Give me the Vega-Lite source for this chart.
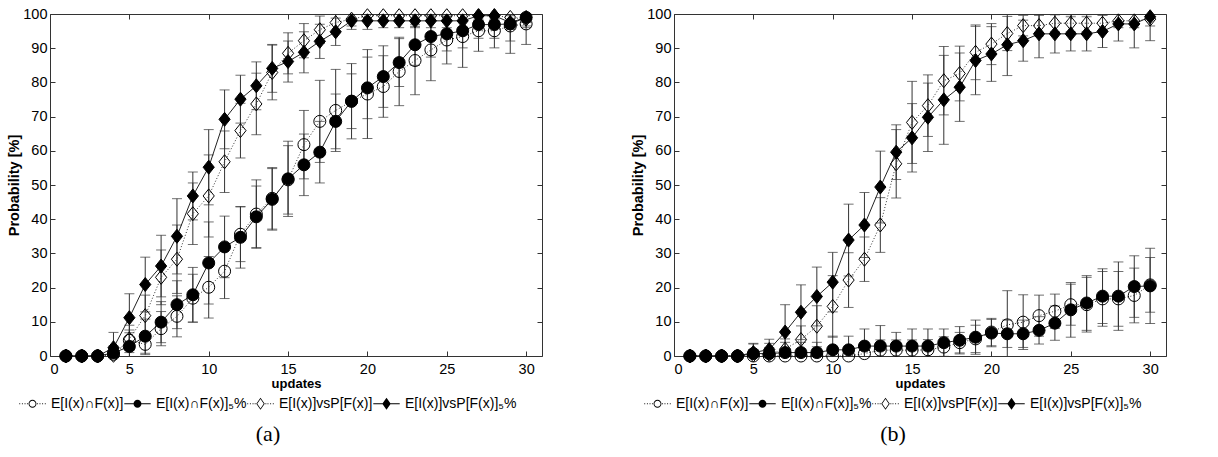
{
  "$schema": "https://vega.github.io/schema/vega-lite/v6.json",
  "padding": {"left": 6, "top": 5, "right": 5, "bottom": 5},
  "bounds": "flush",
  "spacing": 132,
  "resolve": {"scale": {"shape": "independent"}, "legend": {"shape": "independent"}},
  "config": {
    "font": "Liberation Sans",
    "view": {"stroke": "#333", "strokeWidth": 1},
    "axis": {"domain": false, "grid": false, "tickSize": -5, "tickColor": "#333", "labelFontSize": 14.5, "labelColor": "black", "titleFontWeight": "bold", "titleColor": "black", "labelFont": "Liberation Sans", "titleFont": "Liberation Sans", "zindex": 1},
    "axisX": {"labelPadding": 11, "titlePadding": 2, "titleFontSize": 13},
    "axisY": {"labelPadding": 8, "titlePadding": 1, "titleFontSize": 14.5}
  },
  "datasets": {
    "a": [
      {"s":"S1","x":1,"y":0,"e":0},{"s":"S1","x":2,"y":0,"e":0},{"s":"S1","x":3,"y":0,"e":0},{"s":"S1","x":4,"y":0.5,"e":2},{"s":"S1","x":5,"y":4.6,"e":3},{"s":"S1","x":6,"y":3.4,"e":3},{"s":"S1","x":7,"y":8,"e":5},{"s":"S1","x":8,"y":11.6,"e":6},{"s":"S1","x":9,"y":16.9,"e":7},{"s":"S1","x":10,"y":20.1,"e":9},{"s":"S1","x":11,"y":24.8,"e":8},{"s":"S1","x":12,"y":35.6,"e":8},{"s":"S1","x":13,"y":41.5,"e":10},{"s":"S1","x":14,"y":46.1,"e":9},{"s":"S1","x":15,"y":51.5,"e":10},{"s":"S1","x":16,"y":61.8,"e":10},{"s":"S1","x":17,"y":68.6,"e":12},{"s":"S1","x":18,"y":71.8,"e":12},{"s":"S1","x":19,"y":74.5,"e":11},{"s":"S1","x":20,"y":76.6,"e":13},{"s":"S1","x":21,"y":78.8,"e":9},{"s":"S1","x":22,"y":83.2,"e":10},{"s":"S1","x":23,"y":86.4,"e":10},{"s":"S1","x":24,"y":89.5,"e":9},{"s":"S1","x":25,"y":92.4,"e":7},{"s":"S1","x":26,"y":93.4,"e":9},{"s":"S1","x":27,"y":95.1,"e":6},{"s":"S1","x":28,"y":95.1,"e":5},{"s":"S1","x":29,"y":96.5,"e":8},{"s":"S1","x":30,"y":97.1,"e":6},
      {"s":"S2","x":1,"y":0,"e":0},{"s":"S2","x":2,"y":0,"e":0},{"s":"S2","x":3,"y":0,"e":0},{"s":"S2","x":4,"y":0.9,"e":2},{"s":"S2","x":5,"y":2.8,"e":4},{"s":"S2","x":6,"y":5.8,"e":5},{"s":"S2","x":7,"y":9.9,"e":6},{"s":"S2","x":8,"y":15,"e":7},{"s":"S2","x":9,"y":17.9,"e":8},{"s":"S2","x":10,"y":27.2,"e":12},{"s":"S2","x":11,"y":31.9,"e":9},{"s":"S2","x":12,"y":34.7,"e":9},{"s":"S2","x":13,"y":40.7,"e":9},{"s":"S2","x":14,"y":45.8,"e":9},{"s":"S2","x":15,"y":51.8,"e":11},{"s":"S2","x":16,"y":55.9,"e":9},{"s":"S2","x":17,"y":59.6,"e":9},{"s":"S2","x":18,"y":68.6,"e":8},{"s":"S2","x":19,"y":74.5,"e":8},{"s":"S2","x":20,"y":78.4,"e":9},{"s":"S2","x":21,"y":81.7,"e":9},{"s":"S2","x":22,"y":85.8,"e":7},{"s":"S2","x":23,"y":91,"e":6},{"s":"S2","x":24,"y":93.4,"e":6},{"s":"S2","x":25,"y":94.2,"e":5},{"s":"S2","x":26,"y":95.1,"e":5},{"s":"S2","x":27,"y":96.9,"e":4},{"s":"S2","x":28,"y":96.9,"e":4},{"s":"S2","x":29,"y":97.1,"e":5},{"s":"S2","x":30,"y":99,"e":3},
      {"s":"S3","x":1,"y":0,"e":0},{"s":"S3","x":2,"y":0,"e":0},{"s":"S3","x":3,"y":0,"e":0},{"s":"S3","x":4,"y":0.2,"e":2},{"s":"S3","x":5,"y":5,"e":4},{"s":"S3","x":6,"y":11.8,"e":6},{"s":"S3","x":7,"y":23,"e":8},{"s":"S3","x":8,"y":28.3,"e":10},{"s":"S3","x":9,"y":41.6,"e":9},{"s":"S3","x":10,"y":46.8,"e":12},{"s":"S3","x":11,"y":56.8,"e":9},{"s":"S3","x":12,"y":65.9,"e":8},{"s":"S3","x":13,"y":73.7,"e":9},{"s":"S3","x":14,"y":82.9,"e":8},{"s":"S3","x":15,"y":88.5,"e":6},{"s":"S3","x":16,"y":92.2,"e":5},{"s":"S3","x":17,"y":95.4,"e":4},{"s":"S3","x":18,"y":97.5,"e":3},{"s":"S3","x":19,"y":98.5,"e":2},{"s":"S3","x":20,"y":99.5,"e":1.5},{"s":"S3","x":21,"y":99.5,"e":1.5},{"s":"S3","x":22,"y":99.5,"e":1.5},{"s":"S3","x":23,"y":99.5,"e":1.5},{"s":"S3","x":24,"y":99.5,"e":1.5},{"s":"S3","x":25,"y":99.5,"e":1.5},{"s":"S3","x":26,"y":99.5,"e":1.5},{"s":"S3","x":27,"y":99.5,"e":1.5},{"s":"S3","x":28,"y":99.5,"e":1.5},{"s":"S3","x":29,"y":99,"e":2},{"s":"S3","x":30,"y":98.5,"e":2},
      {"s":"S4","x":1,"y":0,"e":0},{"s":"S4","x":2,"y":0,"e":0},{"s":"S4","x":3,"y":0,"e":0},{"s":"S4","x":4,"y":2.4,"e":4.5},{"s":"S4","x":5,"y":11.2,"e":7},{"s":"S4","x":6,"y":20.9,"e":8},{"s":"S4","x":7,"y":26.3,"e":9},{"s":"S4","x":8,"y":35,"e":11},{"s":"S4","x":9,"y":46.8,"e":7},{"s":"S4","x":10,"y":55.2,"e":11},{"s":"S4","x":11,"y":69.2,"e":8.6},{"s":"S4","x":12,"y":75.1,"e":7},{"s":"S4","x":13,"y":79,"e":7},{"s":"S4","x":14,"y":84.1,"e":7},{"s":"S4","x":15,"y":86.1,"e":6},{"s":"S4","x":16,"y":88.8,"e":6},{"s":"S4","x":17,"y":92,"e":5},{"s":"S4","x":18,"y":94.8,"e":4},{"s":"S4","x":19,"y":98,"e":2.5},{"s":"S4","x":20,"y":98,"e":2.5},{"s":"S4","x":21,"y":98,"e":2},{"s":"S4","x":22,"y":98,"e":2},{"s":"S4","x":23,"y":98,"e":2},{"s":"S4","x":24,"y":98,"e":2},{"s":"S4","x":25,"y":98,"e":2},{"s":"S4","x":26,"y":98,"e":2},{"s":"S4","x":27,"y":99.5,"e":1},{"s":"S4","x":28,"y":99.5,"e":1},{"s":"S4","x":29,"y":97.5,"e":2},{"s":"S4","x":30,"y":99,"e":1.5}
    ],
    "b": [
      {"s":"S1","x":1,"y":0,"e":0},{"s":"S1","x":2,"y":0,"e":0},{"s":"S1","x":3,"y":0,"e":0},{"s":"S1","x":4,"y":0,"e":0},{"s":"S1","x":5,"y":0,"e":0},{"s":"S1","x":6,"y":0,"e":0},{"s":"S1","x":7,"y":0,"e":0.5},{"s":"S1","x":8,"y":0,"e":1},{"s":"S1","x":9,"y":0,"e":1},{"s":"S1","x":10,"y":0,"e":1},{"s":"S1","x":11,"y":0,"e":1},{"s":"S1","x":12,"y":0.7,"e":2},{"s":"S1","x":13,"y":1.7,"e":3},{"s":"S1","x":14,"y":1.7,"e":3},{"s":"S1","x":15,"y":1.7,"e":3},{"s":"S1","x":16,"y":1.8,"e":3},{"s":"S1","x":17,"y":2.6,"e":3},{"s":"S1","x":18,"y":3.9,"e":3},{"s":"S1","x":19,"y":5,"e":4},{"s":"S1","x":20,"y":7,"e":4},{"s":"S1","x":21,"y":9.1,"e":10},{"s":"S1","x":22,"y":9.9,"e":8},{"s":"S1","x":23,"y":11.8,"e":6},{"s":"S1","x":24,"y":13.1,"e":5},{"s":"S1","x":25,"y":15,"e":6},{"s":"S1","x":26,"y":15,"e":8},{"s":"S1","x":27,"y":16.7,"e":8},{"s":"S1","x":28,"y":16.7,"e":8},{"s":"S1","x":29,"y":17.7,"e":8},{"s":"S1","x":30,"y":20.8,"e":8},
      {"s":"S2","x":1,"y":0,"e":0},{"s":"S2","x":2,"y":0,"e":0},{"s":"S2","x":3,"y":0,"e":0},{"s":"S2","x":4,"y":0,"e":0},{"s":"S2","x":5,"y":0.7,"e":3},{"s":"S2","x":6,"y":0.7,"e":3},{"s":"S2","x":7,"y":1,"e":3},{"s":"S2","x":8,"y":1,"e":3},{"s":"S2","x":9,"y":1,"e":3},{"s":"S2","x":10,"y":1.8,"e":4},{"s":"S2","x":11,"y":1.8,"e":4},{"s":"S2","x":12,"y":2.9,"e":5},{"s":"S2","x":13,"y":2.9,"e":6},{"s":"S2","x":14,"y":2.9,"e":4},{"s":"S2","x":15,"y":2.9,"e":5},{"s":"S2","x":16,"y":2.9,"e":5},{"s":"S2","x":17,"y":3.9,"e":4},{"s":"S2","x":18,"y":4.6,"e":4},{"s":"S2","x":19,"y":5.5,"e":5},{"s":"S2","x":20,"y":6.7,"e":4},{"s":"S2","x":21,"y":6.5,"e":4},{"s":"S2","x":22,"y":6.5,"e":4},{"s":"S2","x":23,"y":7.5,"e":4},{"s":"S2","x":24,"y":9.6,"e":5},{"s":"S2","x":25,"y":13.5,"e":8},{"s":"S2","x":26,"y":15.5,"e":8},{"s":"S2","x":27,"y":17.5,"e":8},{"s":"S2","x":28,"y":17.5,"e":10},{"s":"S2","x":29,"y":20.3,"e":9},{"s":"S2","x":30,"y":20.5,"e":11},
      {"s":"S3","x":1,"y":0,"e":0},{"s":"S3","x":2,"y":0,"e":0},{"s":"S3","x":3,"y":0,"e":0},{"s":"S3","x":4,"y":0,"e":0},{"s":"S3","x":5,"y":0.3,"e":1.5},{"s":"S3","x":6,"y":0.5,"e":2},{"s":"S3","x":7,"y":2,"e":3},{"s":"S3","x":8,"y":4.8,"e":4},{"s":"S3","x":9,"y":8.7,"e":6},{"s":"S3","x":10,"y":14.5,"e":9},{"s":"S3","x":11,"y":22.2,"e":8},{"s":"S3","x":12,"y":28.3,"e":6.5},{"s":"S3","x":13,"y":38.3,"e":8},{"s":"S3","x":14,"y":56.2,"e":10},{"s":"S3","x":15,"y":68.3,"e":12},{"s":"S3","x":16,"y":73.2,"e":9},{"s":"S3","x":17,"y":80.5,"e":10},{"s":"S3","x":18,"y":82.6,"e":8},{"s":"S3","x":19,"y":88.8,"e":8},{"s":"S3","x":20,"y":91.2,"e":6},{"s":"S3","x":21,"y":94.3,"e":5},{"s":"S3","x":22,"y":96.6,"e":3},{"s":"S3","x":23,"y":96.6,"e":3},{"s":"S3","x":24,"y":97.3,"e":2.5},{"s":"S3","x":25,"y":97.3,"e":2.5},{"s":"S3","x":26,"y":97.3,"e":2.5},{"s":"S3","x":27,"y":97.3,"e":2.5},{"s":"S3","x":28,"y":98,"e":2},{"s":"S3","x":29,"y":98,"e":2},{"s":"S3","x":30,"y":98.5,"e":2},
      {"s":"S4","x":1,"y":0,"e":0},{"s":"S4","x":2,"y":0,"e":0},{"s":"S4","x":3,"y":0,"e":0},{"s":"S4","x":4,"y":0,"e":0},{"s":"S4","x":5,"y":1,"e":2.5},{"s":"S4","x":6,"y":1.9,"e":3},{"s":"S4","x":7,"y":7,"e":8},{"s":"S4","x":8,"y":12.8,"e":8},{"s":"S4","x":9,"y":17.4,"e":8.6},{"s":"S4","x":10,"y":21.6,"e":8.7},{"s":"S4","x":11,"y":33.9,"e":10.5},{"s":"S4","x":12,"y":38.3,"e":9.5},{"s":"S4","x":13,"y":49.4,"e":10.5},{"s":"S4","x":14,"y":59.6,"e":8},{"s":"S4","x":15,"y":63.8,"e":10},{"s":"S4","x":16,"y":69.8,"e":10},{"s":"S4","x":17,"y":74.9,"e":13},{"s":"S4","x":18,"y":78.6,"e":10},{"s":"S4","x":19,"y":86.4,"e":10},{"s":"S4","x":20,"y":88.3,"e":8},{"s":"S4","x":21,"y":91,"e":9},{"s":"S4","x":22,"y":92.2,"e":6},{"s":"S4","x":23,"y":94.2,"e":7},{"s":"S4","x":24,"y":94.2,"e":5.6},{"s":"S4","x":25,"y":94.2,"e":5},{"s":"S4","x":26,"y":94.2,"e":5},{"s":"S4","x":27,"y":94.9,"e":4.7},{"s":"S4","x":28,"y":97.1,"e":5},{"s":"S4","x":29,"y":97.1,"e":7},{"s":"S4","x":30,"y":99.2,"e":7}
    ]
  },
  "hconcat": [
    {
      "width": 492, "height": 342,
      "data": {"name": "a"},
      "encoding": {
        "x": {"field": "x", "type": "quantitative", "scale": {"domain": [0, 31], "nice": false}, "axis": null},
        "y": {"field": "y", "type": "quantitative", "scale": {"domain": [0, 100], "nice": false}, "axis": null}
      },
      "resolve": {"axis": {"x": "independent", "y": "independent"}},
      "layer": [
        {"transform": [{"filter": "datum.e > 0"}], "mark": {"type": "errorbar", "ticks": true, "size": 10, "thickness": 1, "color": "#333", "clip": true}, "encoding": {"yError": {"field": "e"}, "detail": {"field": "s"}}},
        {"transform": [{"filter": "datum.s == 'S1' || datum.s == 'S3'"}], "mark": {"type": "line", "color": "#333", "strokeWidth": 1, "strokeDash": [1, 2]}, "encoding": {"detail": {"field": "s"}}},
        {"transform": [{"filter": "datum.s == 'S2' || datum.s == 'S4'"}], "mark": {"type": "line", "color": "#222", "strokeWidth": 1}, "encoding": {"detail": {"field": "s"},
          "x": {"field": "x", "type": "quantitative", "scale": {"domain": [0, 31], "nice": false}, "axis": {"values": [0,5,10,15,20,25,30], "title": "updates", "orient": "bottom"}},
          "y": {"field": "y", "type": "quantitative", "scale": {"domain": [0, 100], "nice": false}, "axis": {"values": [0,10,20,30,40,50,60,70,80,90,100], "title": "Probability [%]", "orient": "left"}}}},
        {"transform": [{"filter": "datum.s == 'S1'"}], "mark": {"type": "point", "shape": "circle", "size": 144, "filled": false, "fill": "transparent", "stroke": "black", "strokeWidth": 1, "opacity": 1}},
        {"transform": [{"filter": "datum.s == 'S2'"}], "mark": {"type": "point", "shape": "circle", "size": 144, "filled": true, "fill": "black", "stroke": "black", "strokeWidth": 1, "opacity": 1}},
        {"transform": [{"filter": "datum.s == 'S3'"}], "mark": {"type": "point", "shape": "M0,-1L0.8,0L0,1L-0.8,0Z", "size": 196, "filled": false, "fill": "transparent", "stroke": "black", "strokeWidth": 1, "opacity": 1}},
        {"transform": [{"filter": "datum.s == 'S4'"}], "mark": {"type": "point", "shape": "M0,-1L0.8,0L0,1L-0.8,0Z", "size": 196, "filled": true, "fill": "black", "stroke": "black", "strokeWidth": 1, "opacity": 1}},
        {"transform": [{"filter": "datum.x == 1"}], "mark": {"type": "point", "filled": true, "fill": "black", "strokeWidth": 0, "size": 0}, "encoding": {
          "x": {"field": "x", "type": "quantitative", "scale": {"domain": [0, 31], "nice": false}, "axis": {"values": [0,5,10,15,20,25,30], "orient": "top", "labels": false, "title": null}},
          "y": {"field": "y", "type": "quantitative", "scale": {"domain": [0, 100], "nice": false}, "axis": {"values": [0,10,20,30,40,50,60,70,80,90,100], "orient": "right", "labels": false, "title": null}},
          "shape": {"field": "s", "type": "nominal", "scale": {"domain": ["S1","S2","S3","S4"], "range": [
            "M-1,-0.036L-0.93,-0.036L-0.93,0.036L-1,0.036ZM-0.8,-0.036L-0.73,-0.036L-0.73,0.036L-0.8,0.036ZM-0.6,-0.036L-0.53,-0.036L-0.53,0.036L-0.6,0.036ZM-0.42,-0.036L-0.35,-0.036L-0.35,0.036L-0.42,0.036ZM0.35,-0.036L0.42,-0.036L0.42,0.036L0.35,0.036ZM0.53,-0.036L0.6,-0.036L0.6,0.036L0.53,0.036ZM0.73,-0.036L0.8,-0.036L0.8,0.036L0.73,0.036ZM0.93,-0.036L1,-0.036L1,0.036L0.93,0.036ZM-0.3,0A0.3,0.3,0,1,1,0.3,0A0.3,0.3,0,1,1,-0.3,0ZM-0.23,0A0.23,0.23,0,1,0,0.23,0A0.23,0.23,0,1,0,-0.23,0Z",
            "M-1,-0.036L1,-0.036L1,0.036L-1,0.036ZM-0.3,0A0.3,0.3,0,1,1,0.3,0A0.3,0.3,0,1,1,-0.3,0Z",
            "M-1,-0.036L-0.93,-0.036L-0.93,0.036L-1,0.036ZM-0.8,-0.036L-0.73,-0.036L-0.73,0.036L-0.8,0.036ZM-0.6,-0.036L-0.53,-0.036L-0.53,0.036L-0.6,0.036ZM-0.44,-0.036L-0.37,-0.036L-0.37,0.036L-0.44,0.036ZM0.37,-0.036L0.44,-0.036L0.44,0.036L0.37,0.036ZM0.53,-0.036L0.6,-0.036L0.6,0.036L0.53,0.036ZM0.73,-0.036L0.8,-0.036L0.8,0.036L0.73,0.036ZM0.93,-0.036L1,-0.036L1,0.036L0.93,0.036ZM0,-0.45L0.32,0L0,0.45L-0.32,0ZM0,-0.36L-0.245,0L0,0.36L0.245,0Z",
            "M-1,-0.036L1,-0.036L1,0.036L-1,0.036ZM0,-0.45L0.32,0L0,0.45L-0.32,0Z"]},
            "legend": {"orient": "none", "legendX": -31, "legendY": 376, "direction": "horizontal", "columns": 4, "title": "(a)", "titleOrient": "bottom", "titleAnchor": "middle", "titleFont": "Liberation Serif", "titleFontSize": 22, "titleFontWeight": "normal", "titleColor": "black", "titlePadding": 13, "labelFont": "Liberation Sans", "labelFontSize": 14, "labelColor": "black", "labelOffset": 5, "columnPadding": 0, "symbolSize": 700, "symbolStrokeWidth": 0, "symbolFillColor": "black", "symbolOpacity": 1,
              "labelExpr": "datum.label == 'S1' ? 'E[I(x)∩F(x)]' : datum.label == 'S2' ? 'E[I(x)∩F(x)]₅%' : datum.label == 'S3' ? 'E[I(x)]vsP[F(x)]' : 'E[I(x)]vsP[F(x)]₅%'"}}}}
      ]
    },
    {
      "width": 492, "height": 342,
      "data": {"name": "b"},
      "encoding": {
        "x": {"field": "x", "type": "quantitative", "scale": {"domain": [0, 31], "nice": false}, "axis": null},
        "y": {"field": "y", "type": "quantitative", "scale": {"domain": [0, 100], "nice": false}, "axis": null}
      },
      "resolve": {"axis": {"x": "independent", "y": "independent"}},
      "layer": [
        {"transform": [{"filter": "datum.e > 0"}], "mark": {"type": "errorbar", "ticks": true, "size": 10, "thickness": 1, "color": "#333", "clip": true}, "encoding": {"yError": {"field": "e"}, "detail": {"field": "s"}}},
        {"transform": [{"filter": "datum.s == 'S1' || datum.s == 'S3'"}], "mark": {"type": "line", "color": "#333", "strokeWidth": 1, "strokeDash": [1, 2]}, "encoding": {"detail": {"field": "s"}}},
        {"transform": [{"filter": "datum.s == 'S2' || datum.s == 'S4'"}], "mark": {"type": "line", "color": "#222", "strokeWidth": 1}, "encoding": {"detail": {"field": "s"},
          "x": {"field": "x", "type": "quantitative", "scale": {"domain": [0, 31], "nice": false}, "axis": {"values": [0,5,10,15,20,25,30], "title": "updates", "orient": "bottom"}},
          "y": {"field": "y", "type": "quantitative", "scale": {"domain": [0, 100], "nice": false}, "axis": {"values": [0,10,20,30,40,50,60,70,80,90,100], "title": "Probability [%]", "orient": "left"}}}},
        {"transform": [{"filter": "datum.s == 'S1'"}], "mark": {"type": "point", "shape": "circle", "size": 144, "filled": false, "fill": "transparent", "stroke": "black", "strokeWidth": 1, "opacity": 1}},
        {"transform": [{"filter": "datum.s == 'S2'"}], "mark": {"type": "point", "shape": "circle", "size": 144, "filled": true, "fill": "black", "stroke": "black", "strokeWidth": 1, "opacity": 1}},
        {"transform": [{"filter": "datum.s == 'S3'"}], "mark": {"type": "point", "shape": "M0,-1L0.8,0L0,1L-0.8,0Z", "size": 196, "filled": false, "fill": "transparent", "stroke": "black", "strokeWidth": 1, "opacity": 1}},
        {"transform": [{"filter": "datum.s == 'S4'"}], "mark": {"type": "point", "shape": "M0,-1L0.8,0L0,1L-0.8,0Z", "size": 196, "filled": true, "fill": "black", "stroke": "black", "strokeWidth": 1, "opacity": 1}},
        {"transform": [{"filter": "datum.x == 1"}], "mark": {"type": "point", "filled": true, "fill": "black", "strokeWidth": 0, "size": 0}, "encoding": {
          "x": {"field": "x", "type": "quantitative", "scale": {"domain": [0, 31], "nice": false}, "axis": {"values": [0,5,10,15,20,25,30], "orient": "top", "labels": false, "title": null}},
          "y": {"field": "y", "type": "quantitative", "scale": {"domain": [0, 100], "nice": false}, "axis": {"values": [0,10,20,30,40,50,60,70,80,90,100], "orient": "right", "labels": false, "title": null}},
          "shape": {"field": "s", "type": "nominal", "scale": {"domain": ["S1","S2","S3","S4"], "range": [
            "M-1,-0.036L-0.93,-0.036L-0.93,0.036L-1,0.036ZM-0.8,-0.036L-0.73,-0.036L-0.73,0.036L-0.8,0.036ZM-0.6,-0.036L-0.53,-0.036L-0.53,0.036L-0.6,0.036ZM-0.42,-0.036L-0.35,-0.036L-0.35,0.036L-0.42,0.036ZM0.35,-0.036L0.42,-0.036L0.42,0.036L0.35,0.036ZM0.53,-0.036L0.6,-0.036L0.6,0.036L0.53,0.036ZM0.73,-0.036L0.8,-0.036L0.8,0.036L0.73,0.036ZM0.93,-0.036L1,-0.036L1,0.036L0.93,0.036ZM-0.3,0A0.3,0.3,0,1,1,0.3,0A0.3,0.3,0,1,1,-0.3,0ZM-0.23,0A0.23,0.23,0,1,0,0.23,0A0.23,0.23,0,1,0,-0.23,0Z",
            "M-1,-0.036L1,-0.036L1,0.036L-1,0.036ZM-0.3,0A0.3,0.3,0,1,1,0.3,0A0.3,0.3,0,1,1,-0.3,0Z",
            "M-1,-0.036L-0.93,-0.036L-0.93,0.036L-1,0.036ZM-0.8,-0.036L-0.73,-0.036L-0.73,0.036L-0.8,0.036ZM-0.6,-0.036L-0.53,-0.036L-0.53,0.036L-0.6,0.036ZM-0.44,-0.036L-0.37,-0.036L-0.37,0.036L-0.44,0.036ZM0.37,-0.036L0.44,-0.036L0.44,0.036L0.37,0.036ZM0.53,-0.036L0.6,-0.036L0.6,0.036L0.53,0.036ZM0.73,-0.036L0.8,-0.036L0.8,0.036L0.73,0.036ZM0.93,-0.036L1,-0.036L1,0.036L0.93,0.036ZM0,-0.45L0.32,0L0,0.45L-0.32,0ZM0,-0.36L-0.245,0L0,0.36L0.245,0Z",
            "M-1,-0.036L1,-0.036L1,0.036L-1,0.036ZM0,-0.45L0.32,0L0,0.45L-0.32,0Z"]},
            "legend": {"orient": "none", "legendX": -30, "legendY": 376, "direction": "horizontal", "columns": 4, "title": "(b)", "titleOrient": "bottom", "titleAnchor": "middle", "titleFont": "Liberation Serif", "titleFontSize": 22, "titleFontWeight": "normal", "titleColor": "black", "titlePadding": 13, "labelFont": "Liberation Sans", "labelFontSize": 14, "labelColor": "black", "labelOffset": 5, "columnPadding": 0, "symbolSize": 700, "symbolStrokeWidth": 0, "symbolFillColor": "black", "symbolOpacity": 1,
              "labelExpr": "datum.label == 'S1' ? 'E[I(x)∩F(x)]' : datum.label == 'S2' ? 'E[I(x)∩F(x)]₅%' : datum.label == 'S3' ? 'E[I(x)]vsP[F(x)]' : 'E[I(x)]vsP[F(x)]₅%'"}}}}
      ]
    }
  ]
}
